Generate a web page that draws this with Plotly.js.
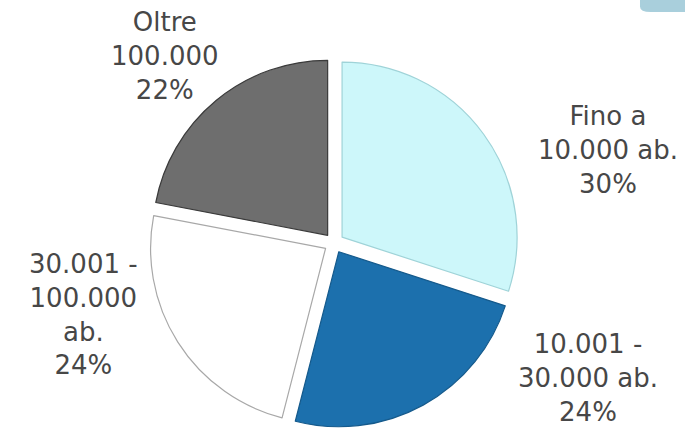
<!DOCTYPE html>
<html>
<head>
<meta charset="utf-8">
<script src="https://cdn.plot.ly/plotly-3.0.1.min.js"></script>
<style>html,body{margin:0;padding:0;background:#fff;}#chart{width:685px;height:431px;}</style>
</head>
<body>
<div id="chart"></div>
<script>
// Data
var categories = ["Fino a<br>10.000 ab.", "10.001 -<br>30.000 ab.", "30.001 -<br>100.000<br>ab.", "Oltre<br>100.000"];
var values = [30, 24, 24, 22];
var percentLabels = ["30%", "24%", "24%", "22%"];

// Styles
var sliceColors = ["#cdf7fa", "#1c70ad", "#ffffff", "#6e6e6e"];
var lineColors = ["#9fd3d8", "#155a8c", "#a8a8a8", "#3a3a3a"];
var labelPos = [
  {x: 0.8876, y: 0.652},
  {x: 0.8584, y: 0.124},
  {x: 0.1212, y: 0.271},
  {x: 0.2409, y: 0.870}
];
var fontFamily = "'DejaVu Sans', sans-serif";

var trace = {
  type: "pie",
  labels: categories,
  values: values,
  sort: false,
  direction: "clockwise",
  rotation: 0,
  pull: [0.057, 0.057, 0.057, 0.057],
  textinfo: "none",
  hoverinfo: "none",
  marker: {colors: sliceColors, line: {color: lineColors, width: 1.2}},
  domain: {x: [0.2175, 0.7577], y: [0.007, 0.8654]},
  showlegend: false
};

var annotations = categories.map(function (c, i) {
  return {
    xref: "paper", yref: "paper",
    x: labelPos[i].x, y: labelPos[i].y,
    xanchor: "center", yanchor: "middle",
    text: c + "<br>" + percentLabels[i],
    showarrow: false,
    align: "center",
    font: {family: fontFamily, size: 26, color: "#474747"}
  };
});

var layout = {
  width: 685, height: 431,
  margin: {l: 0, r: 0, t: 0, b: 0},
  paper_bgcolor: "#ffffff",
  plot_bgcolor: "#ffffff",
  annotations: annotations,
  shapes: [{
    type: "path", xref: "paper", yref: "paper",
    path: "M 0.9343 1.02 L 0.9343 0.985 Q 0.9343 0.972 0.95 0.972 L 1.01 0.972 L 1.01 1.02 Z",
    fillcolor: "#a9cfdc", line: {width: 0}
  }]
};

Plotly.newPlot("chart", [trace], layout, {staticPlot: true, displayModeBar: false});
</script>
</body>
</html>
